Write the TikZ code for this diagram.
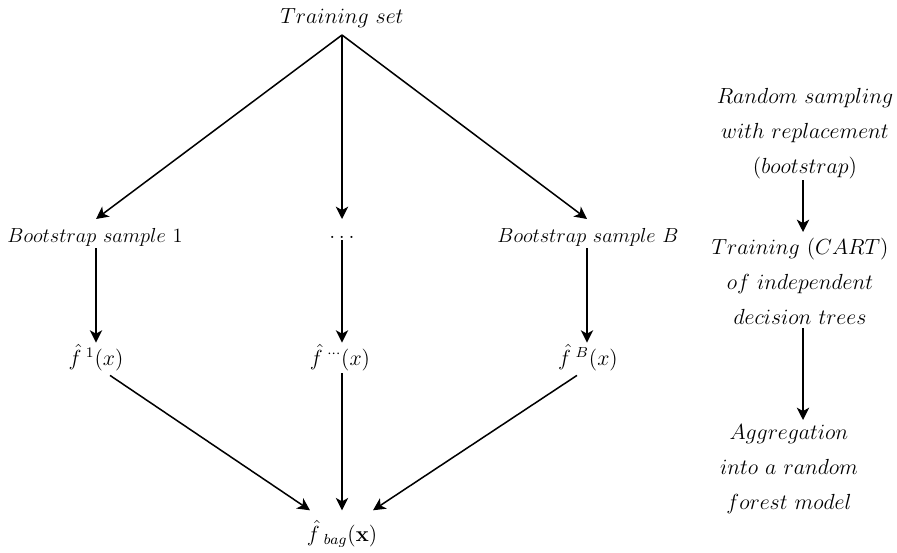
\documentclass[tikz,border=0pt]{standalone}
\usetikzlibrary{arrows.meta,calc}
\begin{document}
\begin{tikzpicture}[x=0.526pt,y=-0.526pt,
  lbl/.style={inner sep=1pt, font={\fontsize{12}{19.2}\selectfont}, align=center, scale=0.958, transform shape},
  blbl/.style={lbl, scale=0.93},
  arr/.style={-{Stealth[length=6.5pt,width=6.5pt,inset=1.8pt]}, line width=0.8pt}]
\useasboundingbox (0,0) rectangle (897,552);
\node[lbl] (ts) at (342,18) {$Training\ set$};
\node[blbl] (b1) at (95,237) {$Bootstrap\ sample\ 1$};
\node[lbl] (bm) at (342,237) {$\ldots$};
\node[blbl] (bB) at (588,237) {$Bootstrap\ sample\ B$};
\node[lbl] (f1) at (96,358) {$\hat{f}^{\hspace{2.5pt}1}(x)$};
\node[lbl] (fm) at (340,358) {$\hat{f}^{\hspace{2.5pt}\cdots}(x)$};
\node[lbl] (fB) at (588,358) {$\hat{f}^{\hspace{2.5pt}B}(x)$};
\node[lbl] (fb) at (342,534) {$\hat{f}_{\hspace{3.5pt}bag}(\mathbf{x})$};
\node[lbl] (rs) at (805,134) {$Random\ sampling$\\$with\ replacement$\\$(bootstrap)$};
\node[lbl] (tr) at (800,281) {$Training\ (CART)$\\$of\ independent$\\$decision\ trees$};
\node[lbl] (ag) at (789,469) {$Aggregation$\\$into\ a\ random$\\$forest\ model$};
\coordinate (top) at (342,35);
\coordinate (rsb) at (803,180);
\coordinate (trt) at (803,232);
\coordinate (trb) at (803,328);
\coordinate (agt) at (803,420);
\draw[arr] (top) -- (96,219);
\draw[arr] (top) -- (342,219);
\draw[arr] (top) -- (587,219);
\draw[arr] (b1.south -| 96,0) -- (96,0 |- f1.north);
\draw[arr] (bm.south) -- (bm.south |- fm.north);
\draw[arr] (bB.south -| 587,0) -- (587,0 |- fB.north);
\draw[arr] ($(f1.south)+(14,2)$) -- ($(fb.north)+(-32,-8)$);
\draw[arr] (fm.south -| fb.north) -- ($(fb.north)+(0,-8)$);
\draw[arr] ($(fB.south)+(-11,2)$) -- ($(fb.north)+(31,-8)$);
\draw[arr] (rsb) -- (trt);
\draw[arr] (trb) -- (agt);
\end{tikzpicture}
\end{document}
